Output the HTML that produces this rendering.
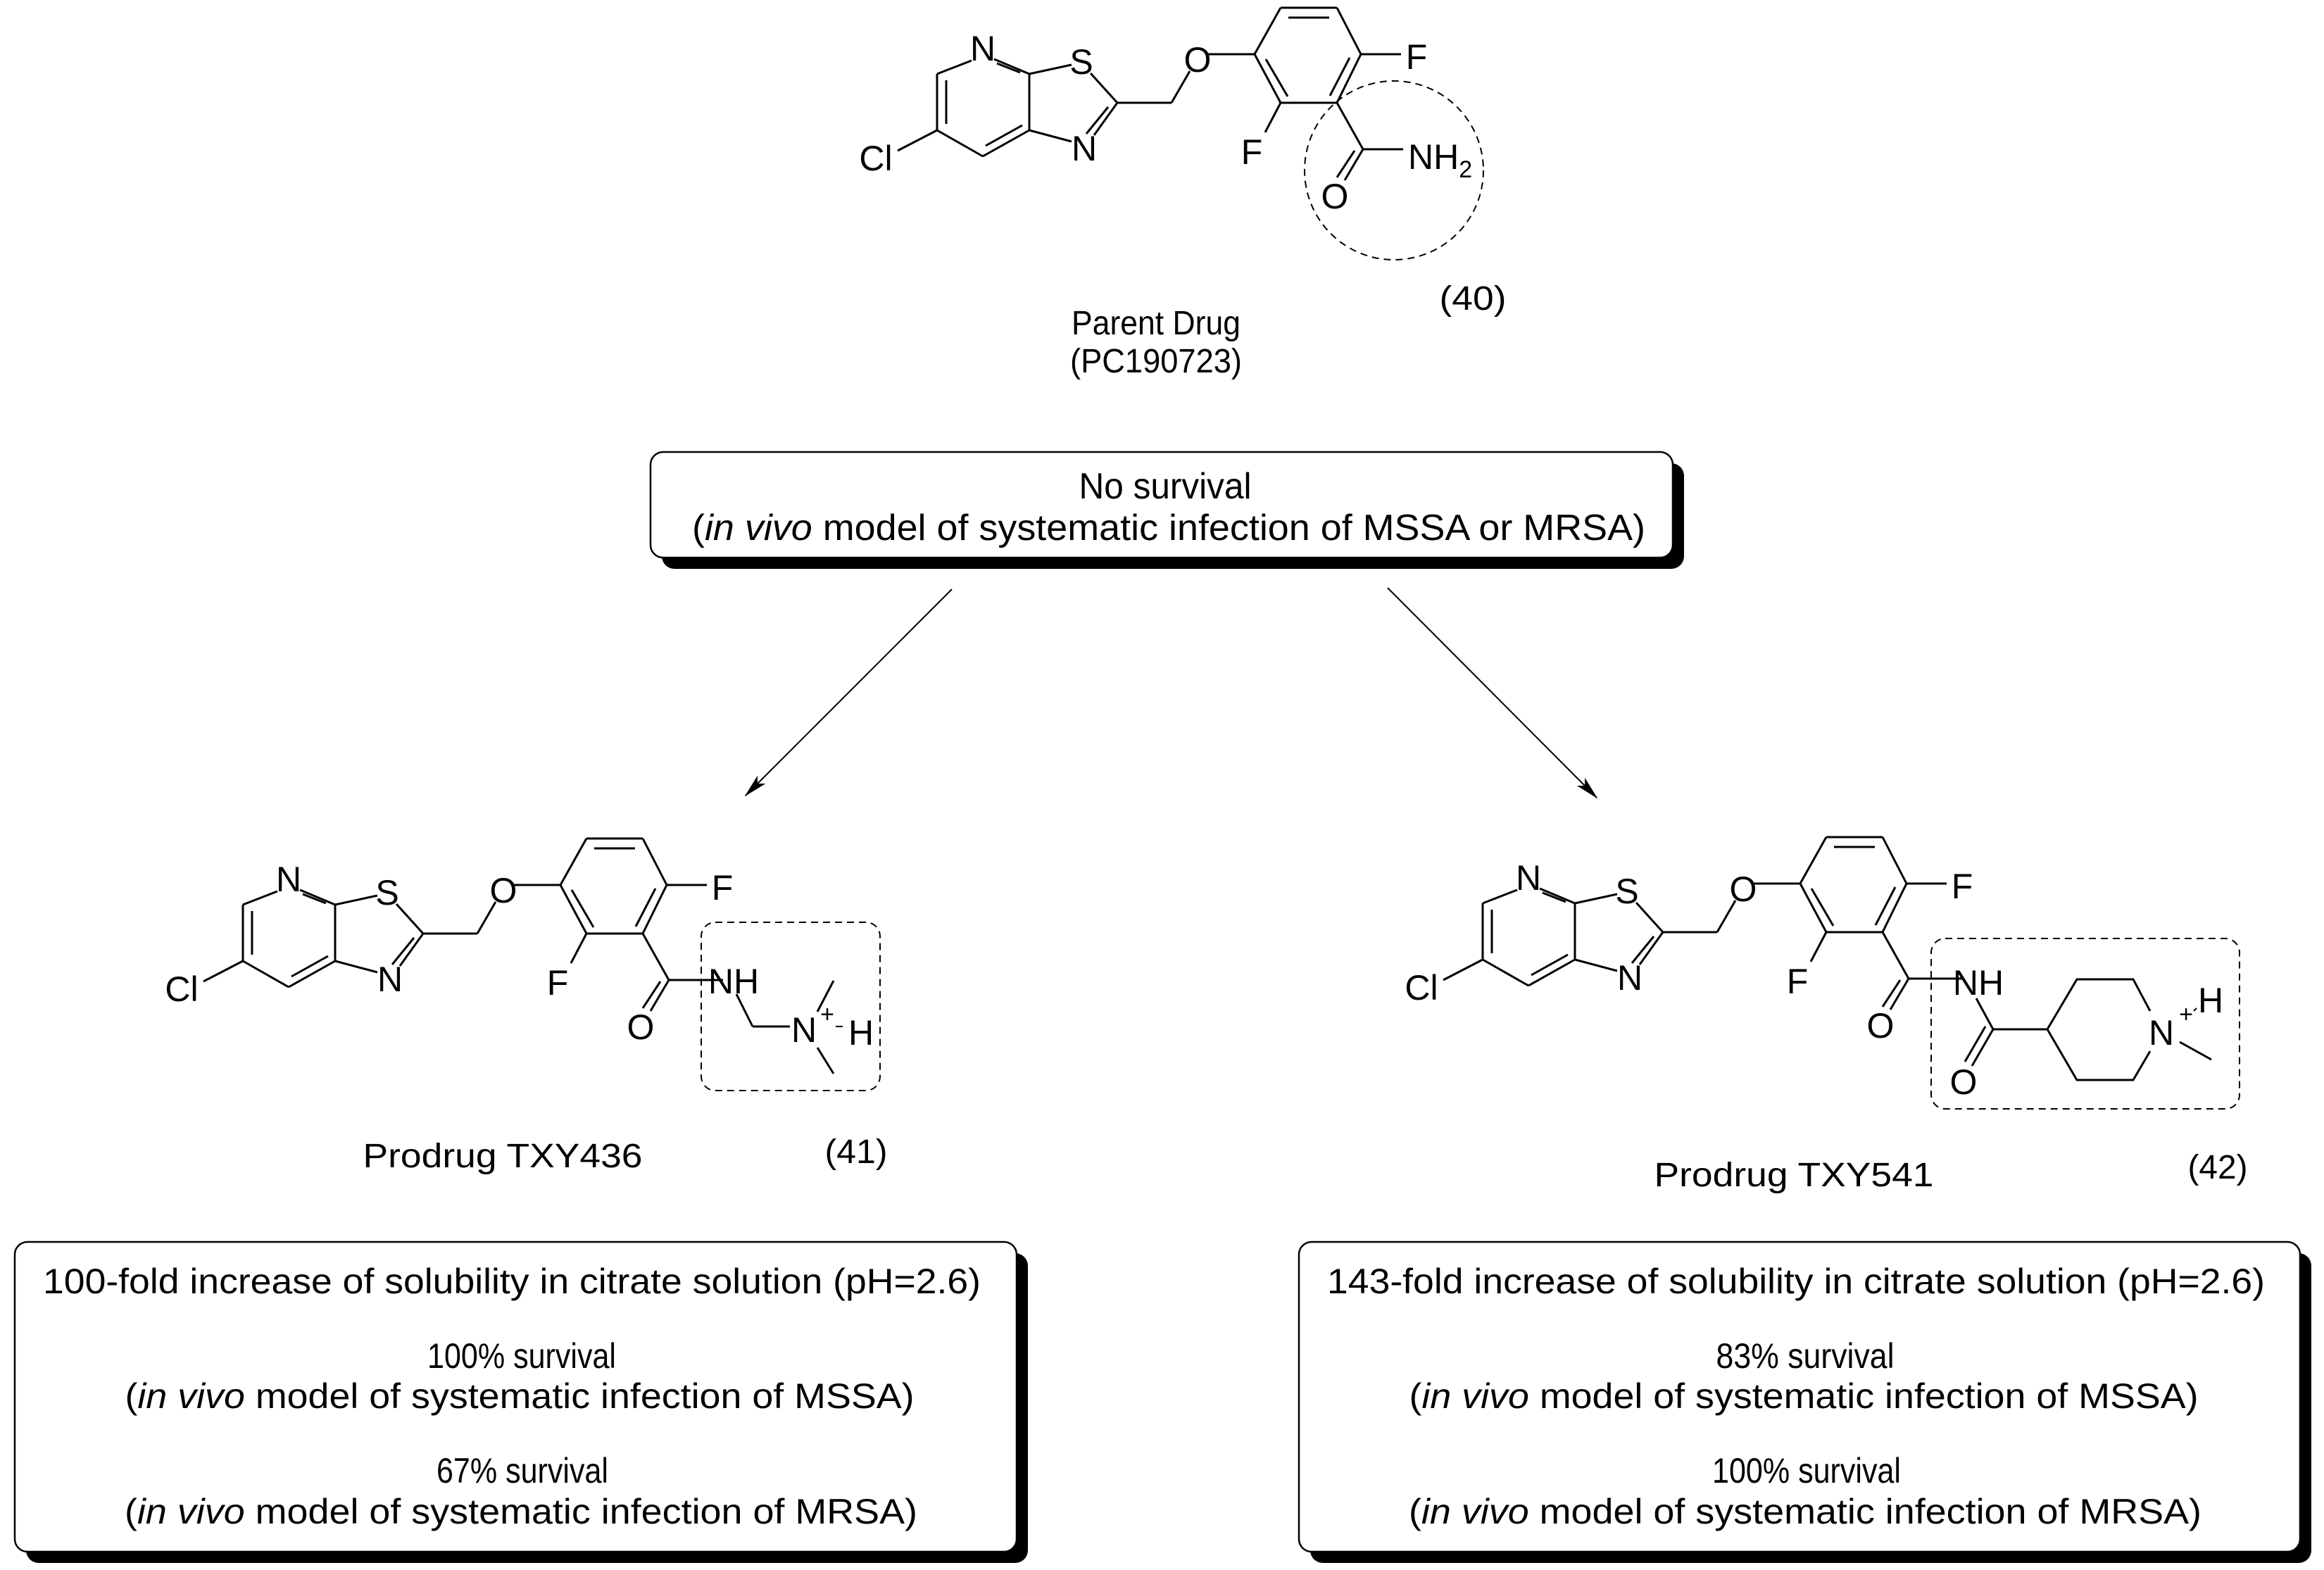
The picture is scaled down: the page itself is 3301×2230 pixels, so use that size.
<!DOCTYPE html>
<html><head><meta charset="utf-8"><style>html,body{margin:0;padding:0;background:#fff}svg{display:block}</style></head>
<body>
<svg xmlns="http://www.w3.org/2000/svg" width="3301" height="2230" viewBox="0 0 3301 2230">
<defs>
<marker id="ah" markerWidth="34" markerHeight="16" refX="32" refY="8" orient="auto" markerUnits="userSpaceOnUse">
<path d="M0,0 L34,8 L0,16 L8,8 Z" fill="#000"/>
</marker>
<g id="core" stroke="#000" stroke-width="3" fill="none">
<line x1="1380" y1="86" x2="1331" y2="105"/>
<line x1="1331" y1="105" x2="1331" y2="185"/>
<line x1="1344" y1="114" x2="1344" y2="176"/>
<line x1="1331" y1="185" x2="1396" y2="222"/>
<line x1="1396" y1="222" x2="1462" y2="185"/>
<line x1="1400" y1="207" x2="1452" y2="178"/>
<line x1="1462" y1="185" x2="1462" y2="105"/>
<line x1="1462" y1="105" x2="1412" y2="84"/>
<line x1="1449" y1="103" x2="1416" y2="90"/>
<line x1="1331" y1="185" x2="1275" y2="214"/>
<line x1="1462" y1="105" x2="1522" y2="92"/>
<line x1="1549" y1="104" x2="1587" y2="146"/>
<line x1="1587" y1="146" x2="1554" y2="192"/>
<line x1="1574" y1="152" x2="1543" y2="190"/>
<line x1="1522" y1="201" x2="1462" y2="185"/>
<line x1="1587" y1="146" x2="1664" y2="146"/>
<line x1="1664" y1="146" x2="1690" y2="101"/>
<line x1="1716" y1="77" x2="1782" y2="77"/>
<line x1="1782" y1="77" x2="1819" y2="11"/>
<line x1="1819" y1="11" x2="1899" y2="11"/>
<line x1="1830" y1="25" x2="1888" y2="25"/>
<line x1="1899" y1="11" x2="1933" y2="77"/>
<line x1="1933" y1="77" x2="1899" y2="146"/>
<line x1="1917" y1="82" x2="1889" y2="136"/>
<line x1="1899" y1="146" x2="1819" y2="146"/>
<line x1="1819" y1="146" x2="1782" y2="77"/>
<line x1="1798" y1="84" x2="1829" y2="137"/>
<line x1="1933" y1="77" x2="1990" y2="77"/>
<line x1="1819" y1="146" x2="1797" y2="188"/>
<line x1="1899" y1="146" x2="1936" y2="212"/>
<line x1="1936" y1="212" x2="1910" y2="256"/>
<line x1="1924" y1="214" x2="1899" y2="252"/>
</g>
<g id="corelab" font-family="Liberation Sans, Arial, sans-serif" font-size="50" text-anchor="middle" fill="#000">
<text x="1396" y="86">N</text>
<text x="1536" y="105">S</text>
<text x="1540" y="228">N</text>
<text x="1701" y="102">O</text>
<text x="1244" y="242">Cl</text>
<text x="2012" y="98">F</text>
<text x="1778" y="233">F</text>
<text x="1896" y="296">O</text>
</g>
</defs>

<use href="#core"/>
<use href="#corelab"/>
<line x1="1936" y1="212" x2="1993" y2="212" stroke="#000" stroke-width="3"/>
<text x="2000" y="240" font-family="Liberation Sans, Arial, sans-serif" font-size="50">NH<tspan font-size="34" dy="12">2</tspan></text>
<circle cx="1980" cy="242" r="127" fill="none" stroke="#000" stroke-width="2" stroke-dasharray="10,7"/>
<g font-family="Liberation Sans, Arial, sans-serif" font-size="48" text-anchor="middle">
<text x="2092" y="440" textLength="95" lengthAdjust="spacingAndGlyphs">(40)</text>
<text x="1642" y="475" textLength="240" lengthAdjust="spacingAndGlyphs">Parent Drug</text>
<text x="1642" y="529" textLength="244" lengthAdjust="spacingAndGlyphs">(PC190723)</text>
</g>

<rect x="940" y="658" width="1452" height="150" rx="18" fill="#000"/>
<rect x="924" y="642" width="1452" height="150" rx="18" fill="#fff" stroke="#000" stroke-width="2.5"/>
<g font-family="Liberation Sans, Arial, sans-serif" font-size="52" text-anchor="middle">
<text x="1655" y="708" textLength="245" lengthAdjust="spacingAndGlyphs">No survival</text>
<text x="1660" y="767" textLength="1354" lengthAdjust="spacingAndGlyphs">(<tspan font-style="italic">in vivo</tspan> model of systematic infection of MSSA or MRSA)</text>
</g>

<line x1="1352" y1="837" x2="1059" y2="1130" stroke="#000" stroke-width="2" marker-end="url(#ah)"/>
<line x1="1971" y1="835" x2="2268" y2="1133" stroke="#000" stroke-width="2" marker-end="url(#ah)"/>

<g transform="translate(-986,1180)">
<use href="#core"/><use href="#corelab"/>
<line x1="1936" y1="212" x2="2013" y2="212" stroke="#000" stroke-width="3"/>
</g>
<g stroke="#000" stroke-width="3" fill="none">
<line x1="1046" y1="1412" x2="1069" y2="1458"/>
<line x1="1069" y1="1458" x2="1122" y2="1458"/>
<line x1="1161" y1="1437" x2="1184" y2="1393"/>
<line x1="1161" y1="1488" x2="1184" y2="1525"/>
<line x1="1187" y1="1458" x2="1197" y2="1458" stroke-width="2"/>
</g>
<g font-family="Liberation Sans, Arial, sans-serif" font-size="50">
<text x="1042" y="1411" text-anchor="middle">NH</text>
<text x="1142" y="1480" text-anchor="middle">N</text>
<text x="1175" y="1452" text-anchor="middle" font-size="34">+</text>
<text x="1223" y="1484" text-anchor="middle">H</text>
</g>
<rect x="996" y="1310" width="254" height="239" rx="20" fill="none" stroke="#000" stroke-width="2" stroke-dasharray="10,7"/>
<g font-family="Liberation Sans, Arial, sans-serif" font-size="48" text-anchor="middle">
<text x="714" y="1658" textLength="397" lengthAdjust="spacingAndGlyphs">Prodrug TXY436</text>
<text x="1216" y="1652" textLength="89" lengthAdjust="spacingAndGlyphs">(41)</text>
</g>

<g transform="translate(775,1178)">
<use href="#core"/><use href="#corelab"/>
<line x1="1936" y1="212" x2="2013" y2="212" stroke="#000" stroke-width="3"/>
</g>
<g stroke="#000" stroke-width="3" fill="none">
<line x1="2807" y1="1418" x2="2831" y2="1462"/>
<line x1="2831" y1="1462" x2="2801" y2="1514"/>
<line x1="2820" y1="1458" x2="2791" y2="1508"/>
<line x1="2831" y1="1462" x2="2908" y2="1462"/>
<polyline points="2908,1462 2950,1391 3030,1391 3054,1436"/>
<polyline points="3054,1493 3030,1534 2950,1534 2908,1462"/>
<line x1="3096" y1="1480" x2="3141" y2="1505"/>
<line x1="3116" y1="1436" x2="3120" y2="1432" stroke-width="2"/>
</g>
<g font-family="Liberation Sans, Arial, sans-serif" font-size="50">
<text x="2810" y="1413" text-anchor="middle">NH</text>
<text x="2789" y="1554" text-anchor="middle">O</text>
<text x="3070" y="1484" text-anchor="middle">N</text>
<text x="3105" y="1452" text-anchor="middle" font-size="34">+</text>
<text x="3140" y="1438" text-anchor="middle">H</text>
</g>
<rect x="2743" y="1333" width="438" height="242" rx="20" fill="none" stroke="#000" stroke-width="2" stroke-dasharray="10,7"/>
<g font-family="Liberation Sans, Arial, sans-serif" font-size="48" text-anchor="middle">
<text x="2548" y="1685" textLength="397" lengthAdjust="spacingAndGlyphs">Prodrug TXY541</text>
<text x="3150" y="1674" textLength="85" lengthAdjust="spacingAndGlyphs">(42)</text>
</g>

<rect x="37" y="1780" width="1423" height="440" rx="18" fill="#000"/>
<rect x="21" y="1764" width="1423" height="440" rx="18" fill="#fff" stroke="#000" stroke-width="2.5"/>
<g font-family="Liberation Sans, Arial, sans-serif" font-size="50" text-anchor="middle">
<text x="727" y="1837" textLength="1332" lengthAdjust="spacingAndGlyphs">100-fold increase of solubility in citrate solution (pH=2.6)</text>
<text x="741" y="1943" textLength="268" lengthAdjust="spacingAndGlyphs">100% survival</text>
<text x="738" y="2000" textLength="1121" lengthAdjust="spacingAndGlyphs">(<tspan font-style="italic">in vivo</tspan> model of systematic infection of MSSA)</text>
<text x="742" y="2106" textLength="244" lengthAdjust="spacingAndGlyphs">67% survival</text>
<text x="740" y="2164" textLength="1126" lengthAdjust="spacingAndGlyphs">(<tspan font-style="italic">in vivo</tspan> model of systematic infection of MRSA)</text>
</g>

<rect x="1861" y="1780" width="1422" height="440" rx="18" fill="#000"/>
<rect x="1845" y="1764" width="1422" height="440" rx="18" fill="#fff" stroke="#000" stroke-width="2.5"/>
<g font-family="Liberation Sans, Arial, sans-serif" font-size="50" text-anchor="middle">
<text x="2551" y="1837" textLength="1332" lengthAdjust="spacingAndGlyphs">143-fold increase of solubility in citrate solution (pH=2.6)</text>
<text x="2564" y="1943" textLength="253" lengthAdjust="spacingAndGlyphs">83% survival</text>
<text x="2562" y="2000" textLength="1121" lengthAdjust="spacingAndGlyphs">(<tspan font-style="italic">in vivo</tspan> model of systematic infection of MSSA)</text>
<text x="2566" y="2106" textLength="268" lengthAdjust="spacingAndGlyphs">100% survival</text>
<text x="2564" y="2164" textLength="1126" lengthAdjust="spacingAndGlyphs">(<tspan font-style="italic">in vivo</tspan> model of systematic infection of MRSA)</text>
</g>
</svg>
</body></html>
